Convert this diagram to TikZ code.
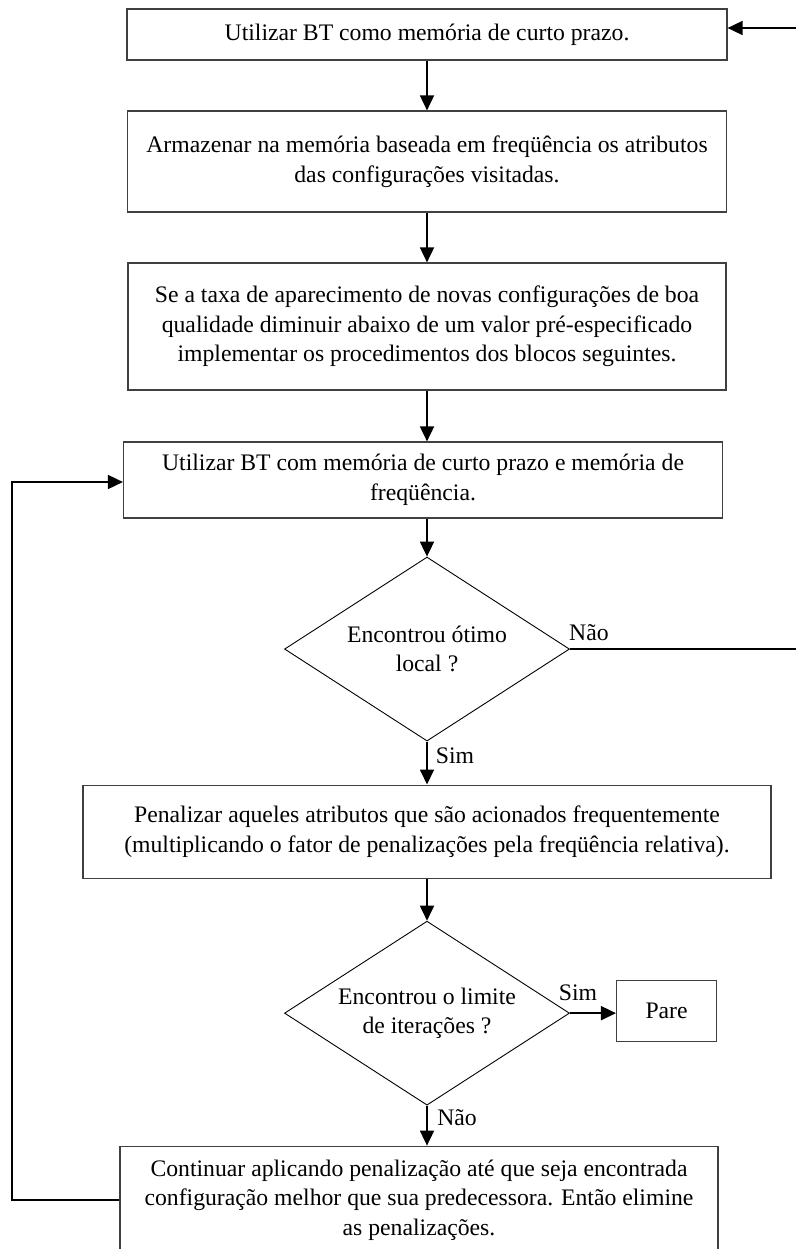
\documentclass[tikz,border=0pt]{standalone}
\usepackage{fontspec}
\setmainfont{Liberation Serif}
\usetikzlibrary{arrows.meta}
\usetikzlibrary{positioning}
\usetikzlibrary{shapes.geometric}
\tikzset{
  txt/.style={font=\fontsize{23.7}{29.5}\selectfont},
  proc/.style={draw=black!75, line width=1.2pt, rectangle, align=center, inner sep=0pt, txt},
  dec/.style={draw, line width=0.9pt, diamond, aspect=1.55, inner sep=0pt,
    minimum width=285pt, minimum height=184pt, align=center, txt},
  flow/.style={line width=1.8pt, -{Triangle[length=15pt,width=14pt]}},
  plain/.style={line width=1.8pt},
  lbl/.style={inner sep=0pt, txt}
}

\begin{document}
\begin{tikzpicture}[x=1pt, y=-1pt]
    \useasboundingbox (0,0) rectangle (796,1249);

    % main column
    \node[proc, minimum width=600pt, minimum height=51pt] (b1) at (427,34.5)
      {Utilizar BT como memória de curto prazo.};
    \node[proc, minimum width=599pt, minimum height=101pt, below=49.8pt of b1] (b2)
      {Armazenar na memória baseada em freqüência os atributos\\das configurações visitadas.};
    \node[proc, minimum width=598pt, minimum height=127pt, below=49.8pt of b2] (b3)
      {Se a taxa de aparecimento de novas configurações de boa\\qualidade diminuir abaixo de um valor pré-especificado\\implementar os procedimentos dos blocos seguintes.};
    \node[proc, minimum width=599pt, minimum height=76pt, below=50.8pt of b3, xshift=-4pt] (b4)
      {Utilizar BT com memória de curto prazo e memória de\\freqüência.};
    \node[dec, below=38pt of b4, xshift=4pt] (d1) {Encontrou ótimo\\local ?};
    \node[proc, minimum width=688pt, minimum height=93pt, below=43pt of d1] (b5)
      {Penalizar aqueles atributos que são acionados frequentemente\\(multiplicando o fator de penalizações pela freqüência relativa).};
    \node[dec, below=42pt of b5] (d2) {Encontrou o limite\\de iterações ?};
    \node[proc, minimum width=100pt, minimum height=61pt, right=46pt of d2, yshift=2pt] (pare) {Pare};
    \node[proc, minimum width=598pt, minimum height=108pt, below=40pt of d2, xshift=-8pt] (b6)
      {Continuar aplicando penalização até que seja encontrada\\configuração melhor que sua predecessora. Então elimine\\as penalizações.};

    % labels
    \node[lbl] (nao1) at ([xshift=19pt, yshift=16pt]d1.east) {Não};
    \node[lbl] (sim1) at ([xshift=28pt, yshift=-14pt]d1.south) {Sim};
    \node[lbl] (sim2) at ([xshift=8pt, yshift=20pt]d2.east) {Sim};
    \node[lbl] (nao2) at ([xshift=30pt, yshift=-12pt]d2.south) {Não};

    % free ends
    \coordinate (inR) at (796,28);
    \coordinate (outR) at (796,0);
    \coordinate (loopL) at (12,0);

    % connectors
    \draw[flow] (inR) -- (inR -| b1.east);
    \draw[flow] (b1.south) -- (b2.north);
    \draw[flow] (b2.south) -- (b3.north);
    \draw[flow] (b3.south) -- (b3.south |- b4.north);
    \draw[flow] (b4.south -| d1.north) -- (d1.north);
    \draw[plain] (d1.east) -- (d1.east -| outR);
    \draw[flow] (d1.south) -- (b5.north);
    \draw[flow] (b5.south) -- (d2.north);
    \draw[flow] (d2.east) -- (d2.east -| pare.west);
    \draw[flow] (d2.south) -- (d2.south |- b6.north);
    \draw[flow] (b6.west) -- (b6.west -| loopL) |- ([yshift=-2pt]b4.west);
\end{tikzpicture}
\end{document}
